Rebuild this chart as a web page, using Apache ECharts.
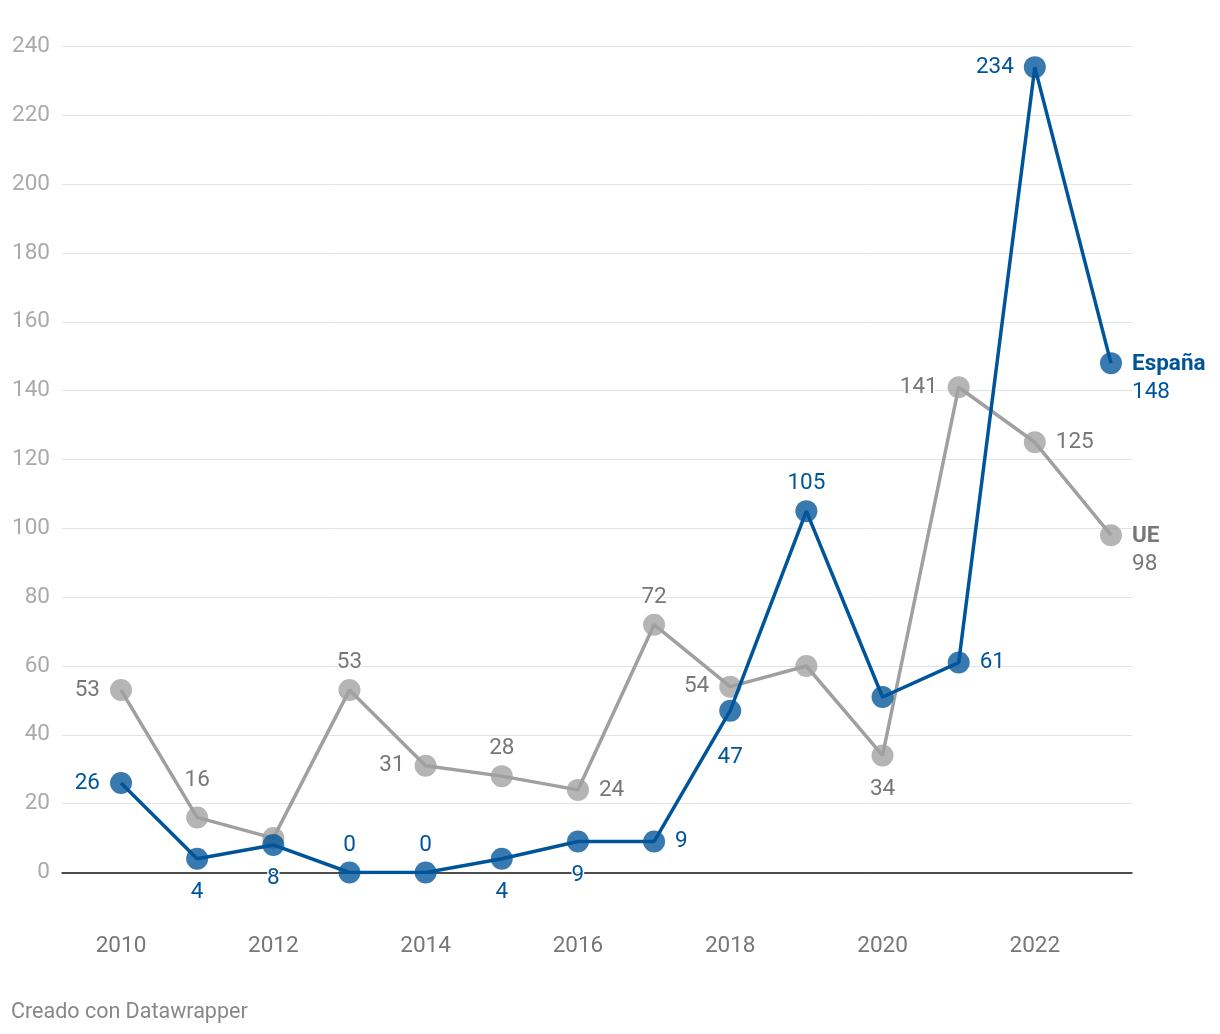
<!DOCTYPE html>
<html>
<head>
<meta charset="utf-8">
<script src="https://cdn.jsdelivr.net/npm/echarts@6/dist/echarts.min.js"></script>
<style>
html,body{margin:0;padding:0;background:#fff;}
#chart{width:1220px;height:1034px;}
</style>
</head>
<body>
<div id="chart"></div>
<script>
const years = [2010,2011,2012,2013,2014,2015,2016,2017,2018,2019,2020,2021,2022,2023];
const espana = [26,4,8,0,0,4,9,9,47,105,51,61,234,148];
const ue = [53,16,10,53,31,28,24,72,54,60,34,141,125,98];
const xTicks = [2010,2012,2014,2016,2018,2020,2022];

// label placement (style only)
const espPos = ['left','bottom','bottom','top','top','bottom','bottom','right','bottom2','top',null,'right','left','end'];
const uePos  = ['left','top2',null,'top','left','top','right','top','left',null,'bottom','left','right','end'];

const BLUE = '#00559a', GRAY = '#a0a0a0';
const BLUE_M = 'rgba(0,85,154,0.78)', GRAY_M = 'rgba(160,160,160,0.78)';
const FONT = 'Roboto';
const FS = 22.5;

function labelFor(pos, color, name, v) {
  const base = {show:true, color:color, fontSize:FS, fontFamily:FONT, textBorderColor:'#fff', textBorderWidth:3};
  if (!pos) return {show:false};
  if (pos === 'end') {
    return Object.assign(base, {position:'right', distance:10, offset:[0,15],
      formatter:'{n|'+name+'}\n{v|'+v+'}',
      rich:{n:{fontWeight:'bold', color:color, fontSize:FS, fontFamily:FONT, lineHeight:28},
            v:{color:color, fontSize:FS, fontFamily:FONT, lineHeight:28}}});
  }
  if (pos === 'bottom2') return Object.assign(base, {position:'bottom', distance:24});
  if (pos === 'top2') return Object.assign(base, {position:'top', distance:15});
  const d = {left:10, right:10, top:5, bottom:11}[pos];
  return Object.assign(base, {position:pos, distance:d});
}

function build(vals, pos, color, name) {
  return vals.map((v,i)=>({value:[years[i], v], label: labelFor(pos[i], color, name, v)}));
}

const chart = echarts.init(document.getElementById('chart'));
chart.setOption({
  animation:false,
  backgroundColor:'#fff',
  textStyle:{fontFamily:FONT},
  grid:{left:62, right:88, top:46.5, bottom:161.5, containLabel:false},
  xAxis:{
    type:'value', min:2009.225, max:2023.276,
    axisLine:{show:true, onZero:false, lineStyle:{color:'#1a1a1a', width:1.5}},
    axisTick:{show:false},
    splitLine:{show:false},
    axisLabel:{customValues:xTicks, color:'#777', fontSize:FS, fontFamily:FONT, margin:62, formatter:v=>String(v)}
  },
  yAxis:{
    type:'value', min:0, max:240, interval:20,
    axisLine:{show:false}, axisTick:{show:false},
    splitLine:{lineStyle:{color:'#e3e3e3', width:1}},
    axisLabel:{color:'#aaa', fontSize:FS, fontFamily:FONT, margin:12}
  },
  series:[
    {name:'UE', type:'line', data:build(ue, uePos, '#777', 'UE'), symbol:'circle', symbolSize:22,
     lineStyle:{color:GRAY, width:3.5}, itemStyle:{color:GRAY_M}, z:2,
     emphasis:{disabled:true}},
    {name:'España', type:'line', data:build(espana, espPos, BLUE, 'España'), symbol:'circle', symbolSize:22,
     lineStyle:{color:BLUE, width:3.5}, itemStyle:{color:BLUE_M}, z:3,
     emphasis:{disabled:true}}
  ],
  graphic:[{type:'text', left:11, top:1002, style:{text:'Creado con Datawrapper', fill:'#888', fontSize:21.5, fontFamily:FONT}}]
});
</script>
</body>
</html>
